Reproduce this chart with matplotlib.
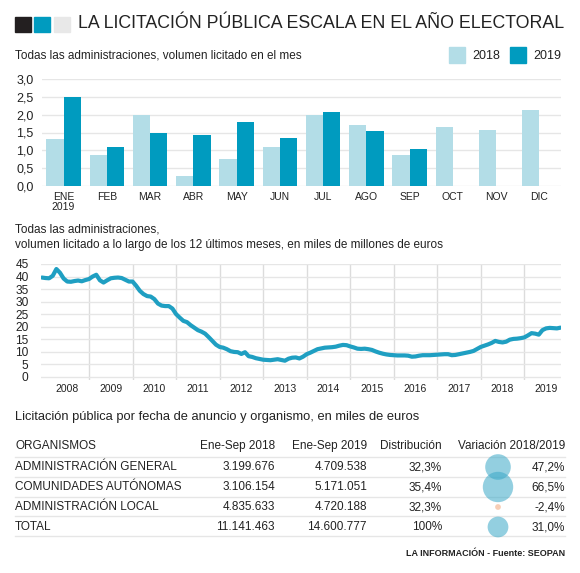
import numpy as np
import matplotlib
matplotlib.use("Agg")
import matplotlib.pyplot as plt
from matplotlib.patches import Rectangle
from matplotlib import font_manager

plt.rcParams['font.family'] = ['Liberation Sans', 'DejaVu Sans']

# --- datos: volumen licitado por mes (miles de millones de euros)
meses = ['ENE\n2019', 'FEB', 'MAR', 'ABR', 'MAY', 'JUN', 'JUL', 'AGO', 'SEP', 'OCT', 'NOV', 'DIC']
vol_2018 = [1.32, 0.87, 1.98, 0.28, 0.75, 1.08, 1.98, 1.71, 0.87, 1.65, 1.57, 2.13]
vol_2019 = [2.50, 1.09, 1.48, 1.42, 1.80, 1.35, 2.08, 1.55, 1.03]

# --- datos: acumulado 12 meses, mensual desde dic-2007
inicio_serie = 2007 + 11 / 12
acum_12m = [
    39.6, 39.4, 39.3, 40.3, 43.0, 41.5, 39.2, 38.0, 37.9, 38.2, 38.4, 38.1,
    38.6, 39.0, 40.0, 40.7, 38.5, 37.6, 38.5, 39.3, 39.5, 39.6, 39.4, 38.7,
    38.0, 38.0, 36.3, 34.3, 33.0, 32.2, 32.0, 31.0, 29.2, 28.4, 28.2, 28.2,
    27.2, 25.0, 23.6, 22.3, 21.8, 20.6, 19.6, 18.6, 18.0, 17.2, 15.8, 14.3,
    12.8, 11.9, 11.6, 11.0, 10.2, 9.9, 9.8, 9.1, 9.8, 8.2, 7.9, 7.4,
    7.1, 6.8, 6.7, 6.6, 6.8, 7.0, 6.7, 6.4, 7.2, 7.6, 7.7, 7.3,
    8.0, 9.0, 9.6, 10.3, 11.0, 11.3, 11.6, 11.7, 11.8, 12.0, 12.4, 12.7,
    12.6, 12.1, 11.7, 11.2, 11.1, 11.2, 11.0, 10.7, 10.1, 9.6, 9.2, 8.9,
    8.7, 8.6, 8.5, 8.5, 8.5, 8.4, 8.0, 8.1, 8.4, 8.6, 8.6, 8.6,
    8.7, 8.8, 8.9, 9.0, 9.0, 8.6, 8.7, 9.0, 9.3, 9.6, 9.9, 10.3,
    11.1, 11.9, 12.4, 12.9, 13.5, 14.3, 13.9, 13.7, 14.0, 14.8, 15.1, 15.2,
    15.4, 15.7, 16.5, 17.4, 17.2, 16.8, 18.6, 19.3, 19.5, 19.4, 19.3, 19.6,
]
anios = list(range(2008, 2020))

# --- datos: tabla por organismo
organismos = ['ADMINISTRACIÓN GENERAL', 'COMUNIDADES AUTÓNOMAS', 'ADMINISTRACIÓN LOCAL', 'TOTAL']
ene_sep_2018 = ['3.199.676', '3.106.154', '4.835.633', '11.141.463']
ene_sep_2019 = ['4.709.538', '5.171.051', '4.720.188', '14.600.777']
distribucion = ['32,3%', '35,4%', '32,3%', '100%']
variacion = [47.2, 66.5, -2.4, 31.0]

C18 = '#b3dde7'
C19 = '#009bbf'
LINEA = '#1f9fc2'
GRID = '#e6e6e6'
TXT = '#222222'

# fuente estrecha para el titular si existe
nombres = {f.name for f in font_manager.fontManager.ttflist}
if 'Liberation Sans Narrow' in nombres:
    fam_tit, fs_tit = ['Liberation Sans Narrow', 'DejaVu Sans'], 14
else:
    fam_tit, fs_tit = ['Liberation Sans', 'DejaVu Sans'], 12.8

fig = plt.figure(figsize=(5.8, 5.73), dpi=100)
W, H = 580, 573

def fx(px): return px / W
def fy(py): return 1 - py / H

# cabecera
for x0, c in [(15, '#231f20'), (34, C19), (54, '#e8e8e8')]:
    fig.patches.append(Rectangle((fx(x0), fy(32)), fx(16), 15 / H, color=c,
                                 transform=fig.transFigure))
fig.text(fx(78), fy(24), 'LA LICITACIÓN PÚBLICA ESCALA EN EL AÑO ELECTORAL',
         fontsize=fs_tit, family=fam_tit, color=TXT, va='center', ha='left')

fig.text(fx(15), fy(56), 'Todas las administraciones, volumen licitado en el mes',
         fontsize=8.5, color=TXT, va='center')
for x0, c, lab in [(449, C18, '2018'), (510, C19, '2019')]:
    fig.patches.append(Rectangle((fx(x0), fy(63)), fx(16), 16 / H, color=c,
                                 transform=fig.transFigure))
    fig.text(fx(x0 + 23), fy(56), lab, fontsize=9, color=TXT, va='center')

# barras
ax1 = fig.add_axes([fx(42), fy(186), fx(561 - 42), (186 - 79) / H])
x = np.arange(len(meses))
bw = 0.40
ax1.bar(x[:len(vol_2018)] - bw / 2, vol_2018, bw, color=C18, zorder=2)
ax1.bar(x[:len(vol_2019)] + bw / 2, vol_2019, bw, color=C19, zorder=2)
ax1.set_xlim(-0.5, 11.5)
ax1.set_ylim(0, 3.0)
ax1.set_yticks(np.arange(0, 3.01, 0.5))
ax1.set_yticklabels([f'{v:.1f}'.replace('.', ',') for v in np.arange(0, 3.01, 0.5)])
ax1.set_xticks(x)
ax1.set_xticklabels(meses, fontsize=7.5, color=TXT, linespacing=1.0)
ax1.tick_params(axis='y', labelsize=9, colors=TXT, length=0, pad=6)
ax1.tick_params(axis='x', length=0, pad=4)
ax1.grid(axis='y', color=GRID, lw=1, zorder=0)
for s in ax1.spines.values():
    s.set_visible(False)

# linea
fig.text(fx(15), fy(230), 'Todas las administraciones,', fontsize=8.5, color=TXT, va='center')
fig.text(fx(15), fy(245), 'volumen licitado a lo largo de los 12 últimos meses, en miles de millones de euros',
         fontsize=8.5, color=TXT, va='center')

ax2 = fig.add_axes([fx(41), fy(380), fx(561 - 41), (380 - 264) / H])
t = inicio_serie + np.arange(len(acum_12m)) / 12
ax2.plot(t, acum_12m, color=LINEA, lw=3, solid_capstyle='round', zorder=3)
ax2.set_xlim(inicio_serie - 0.02, t[-1] + 0.01)
ax2.set_ylim(-1.3, 45)
ax2.set_yticks(range(0, 46, 5))
ax2.tick_params(axis='y', labelsize=8.6, colors=TXT, length=0, pad=9)
ax2.grid(axis='y', color=GRID, lw=1, zorder=0)
ax2.set_xticks([a + 0.5 for a in anios])
ax2.set_xticklabels([str(a) for a in anios], fontsize=7.5, color=TXT)
ax2.tick_params(axis='x', length=0, pad=3)
for a in anios[1:]:
    ax2.axvline(a, color='#dcdcdc', lw=1, zorder=1)
for s in ax2.spines.values():
    s.set_visible(False)

# tabla
ax3 = fig.add_axes([0, 0, 1, 1])
ax3.set_xlim(0, W)
ax3.set_ylim(H, 0)
ax3.axis('off')
ax3.text(15, 417, 'Licitación pública por fecha de anuncio y organismo, en miles de euros',
         fontsize=9.3, color=TXT, va='center')
cab_y = 446
fs = 8.5
ax3.text(15, cab_y, 'ORGANISMOS', fontsize=fs, color=TXT, va='center')
for xr, lab in [(275, 'Ene-Sep 2018'), (367, 'Ene-Sep 2019'), (442, 'Distribución'), (565, 'Variación 2018/2019')]:
    ax3.text(xr, cab_y, lab, fontsize=fs, color=TXT, va='center', ha='right')
fila_y = [467, 487, 507, 527]
for yl in [457, 477, 497, 516, 536]:
    ax3.plot([15, 565], [yl, yl], color=GRID, lw=1)
colores = ['#3aa8c8' if v >= 0 else '#f2a77a' for v in variacion]
ax3.scatter([498] * len(variacion), fila_y, s=[7.2 * abs(v) for v in variacion],
            c=colores, alpha=0.55, lw=0, zorder=3)
for i in range(len(organismos)):
    y = fila_y[i]
    ax3.text(15, y, organismos[i], fontsize=fs, color=TXT, va='center')
    ax3.text(275, y, ene_sep_2018[i], fontsize=fs, color=TXT, va='center', ha='right')
    ax3.text(367, y, ene_sep_2019[i], fontsize=fs, color=TXT, va='center', ha='right')
    ax3.text(442, y, distribucion[i], fontsize=fs, color=TXT, va='center', ha='right')
    ax3.text(565, y, f'{variacion[i]:.1f}%'.replace('.', ','), fontsize=fs, color=TXT,
             va='center', ha='right', zorder=4)

ax3.text(565, 553, 'LA INFORMACIÓN - Fuente: SEOPAN', fontsize=6.5, color=TXT,
         family=fam_tit, va='center', ha='right', fontweight='bold')

fig.savefig('out.png', dpi=100)
